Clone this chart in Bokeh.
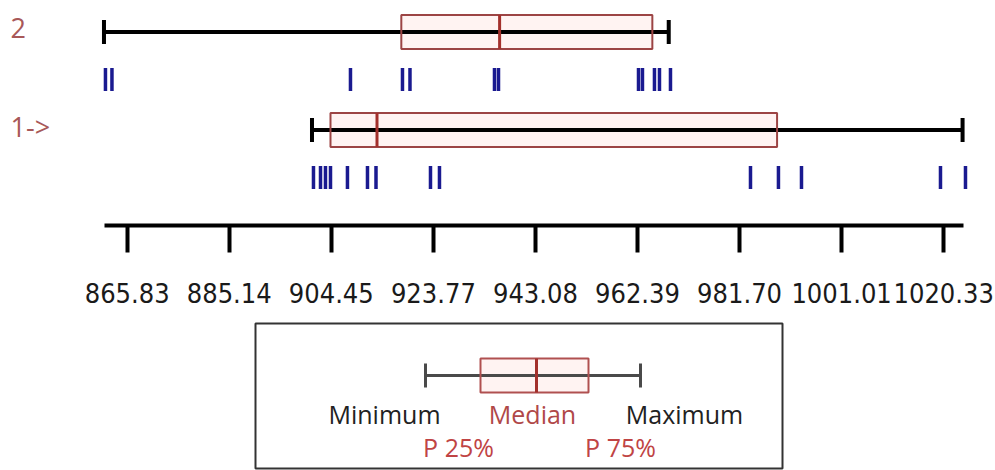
import subprocess
from bokeh.plotting import figure
from bokeh.layouts import column
from bokeh.models import Range1d, FixedTicker, NumeralTickFormatter, Label
from bokeh.core.properties import value
from bokeh.embed import file_html
from bokeh.resources import INLINE

# ---- data ----
categories = ["2", "1->"]
mins = [861.44, 900.80]
q1s = [917.70, 904.30]
medians = [936.30, 913.10]
q3s = [965.20, 988.80]
maxs = [968.30, 1023.90]

rug_2 = [861.72, 862.95, 908.08, 917.92, 919.34, 935.33, 936.09,
         962.58, 963.33, 965.60, 966.55, 968.63]
rug_1 = [901.08, 902.41, 903.35, 904.30, 907.51, 911.30, 912.91,
         923.22, 924.92, 983.77, 989.06, 993.42, 1019.72, 1024.45]
rugs = [rug_2, rug_1]

tick_values = [865.83, 885.14, 904.45, 923.77, 943.08, 962.39, 981.70, 1001.01, 1020.33]
axis_bounds = (861.5, 1024.0)

# ---- font for the narrow tick labels ----
try:
    families = subprocess.run(["fc-list", ":", "family"], capture_output=True, text=True).stdout
except Exception:
    families = ""
if "Liberation Sans Narrow" in families:
    TICK_FONT, TICK_SIZE = "Liberation Sans Narrow", "33px"
elif "DejaVu Sans Condensed" in families:
    TICK_FONT, TICK_SIZE = "DejaVu Sans Condensed", "27px"
else:
    TICK_FONT, TICK_SIZE = "Roboto", "27px"

# ---- styles / layout ----
row_y = [31.5, 129.5]      # whisker centre (pixel-like coords)
rug_off = 47.5
box_half = 17
cap_half = 12
rug_half = 11.5
BOX_LINE = "#9c4444"
BOX_FILL = "#fff3f2"
MED_COL = "#a3302c"
RUG_COL = "#1a1a90"
LABEL_COL = "#a85858"

p = figure(width=995, height=320, x_range=Range1d(841.86, 1030.13),
           y_range=Range1d(225, 0), output_backend="svg", toolbar_location=None,
           min_border_left=0, min_border_right=0, min_border_top=0,
           min_border_bottom=95, y_axis_location=None)
p.grid.visible = False
p.outline_line_color = None

for i, cat in enumerate(categories):
    yc = row_y[i]
    p.quad(left=[q1s[i]], right=[q3s[i]], top=[yc - box_half], bottom=[yc + box_half],
           fill_color=BOX_FILL, line_color=None)
    p.segment(x0=[mins[i]], x1=[maxs[i]], y0=[yc], y1=[yc], line_color="black", line_width=4)
    p.segment(x0=[mins[i], maxs[i]], x1=[mins[i], maxs[i]],
              y0=[yc - cap_half] * 2, y1=[yc + cap_half] * 2, line_color="black", line_width=4)
    p.quad(left=[q1s[i]], right=[q3s[i]], top=[yc - box_half], bottom=[yc + box_half],
           fill_color=None, line_color=BOX_LINE, line_width=2)
    p.segment(x0=[medians[i]], x1=[medians[i]], y0=[yc - box_half], y1=[yc + box_half],
              line_color=MED_COL, line_width=3)
    yr = yc + rug_off
    r = rugs[i]
    p.segment(x0=r, x1=r, y0=[yr - rug_half] * len(r), y1=[yr + rug_half] * len(r),
              line_color=RUG_COL, line_width=3.5)
    p.add_layout(Label(x=10, y=yc - 4, x_units="screen", y_units="data", text=cat,
                       text_baseline="middle", text_font="Open Sans",
                       text_font_size="27px", text_color=LABEL_COL))

ax = p.xaxis[0]
ax.ticker = FixedTicker(ticks=tick_values)
ax.formatter = NumeralTickFormatter(format="0.00")
ax.bounds = axis_bounds
ax.axis_line_width = 4
ax.axis_line_color = "black"
ax.major_tick_line_width = 4
ax.major_tick_line_color = "black"
ax.major_tick_out = 27
ax.major_tick_in = 0
ax.minor_tick_line_color = None
ax.major_label_standoff = 30
ax.major_label_text_font = TICK_FONT
ax.major_label_text_font_size = TICK_SIZE
ax.major_label_text_color = "#1a1a1a"

# ---- legend schematic ----
q = figure(width=995, height=150, x_range=Range1d(0, 995), y_range=Range1d(470, 320),
           output_backend="svg", toolbar_location=None, min_border=0,
           x_axis_location=None, y_axis_location=None)
q.grid.visible = False
q.outline_line_color = None

lg_frame = dict(left=255, right=782, top=323, bottom=468)
lg_y = 375
lg_min, lg_q1, lg_med, lg_q3, lg_max = 425, 480, 536, 588, 640
q.quad(left=[lg_frame["left"]], right=[lg_frame["right"]], top=[lg_frame["top"]],
       bottom=[lg_frame["bottom"]], fill_color=None, line_color="#333333", line_width=2)
q.quad(left=[lg_q1], right=[lg_q3], top=[lg_y - 17], bottom=[lg_y + 17],
       fill_color=BOX_FILL, line_color=None)
q.segment(x0=[lg_min], x1=[lg_max], y0=[lg_y], y1=[lg_y], line_color="#4a4a4a", line_width=3)
q.segment(x0=[lg_min, lg_max], x1=[lg_min, lg_max], y0=[lg_y - 12] * 2, y1=[lg_y + 12] * 2,
          line_color="#4a4a4a", line_width=3)
q.quad(left=[lg_q1], right=[lg_q3], top=[lg_y - 17], bottom=[lg_y + 17],
       fill_color=None, line_color="#b05050", line_width=2)
q.segment(x0=[lg_med], x1=[lg_med], y0=[lg_y - 17], y1=[lg_y + 17], line_color=MED_COL, line_width=3)

legend_texts = ["Minimum", "Median", "Maximum", "P 25%", "P 75%"]
legend_x = [384, 532, 684, 458, 620]
legend_ty = [413, 413, 413, 446, 446]
legend_col = ["#222222", "#b04848", "#222222", "#c04444", "#c04444"]
q.text(x=legend_x, y=legend_ty, text=legend_texts, text_color=legend_col,
       text_align="center", text_baseline="middle", text_font=value("Open Sans"),
       text_font_size="25px")

layout = column(p, q, spacing=0)
open("out.html", "w").write(file_html(layout, INLINE))
